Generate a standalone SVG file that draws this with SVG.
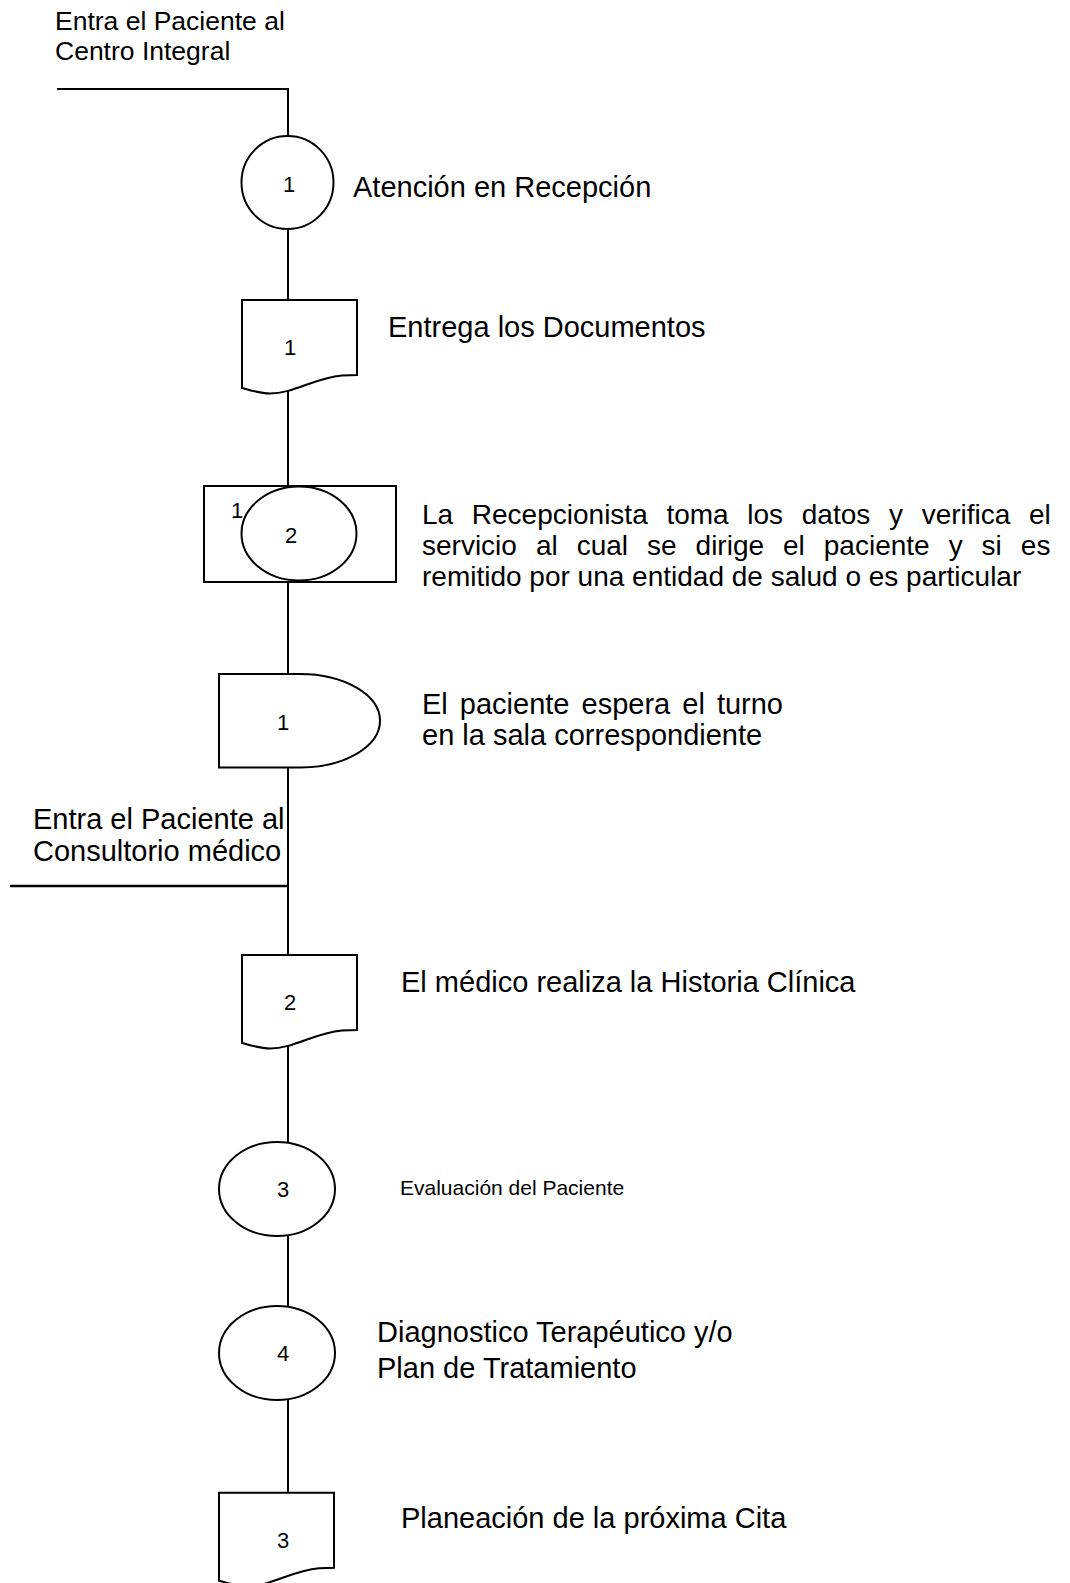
<svg xmlns="http://www.w3.org/2000/svg" width="1070" height="1583" viewBox="0 0 1070 1583">
<defs>
<style>
.s{fill:#fff;stroke:#000;stroke-width:2}
.c{fill:none;stroke:#000;stroke-width:2}
text{font-family:"Liberation Sans",Arial,sans-serif;fill:#000}
.n{font-size:22px;text-anchor:middle}
.t{font-size:29px}
.p{font-size:28px}
</style>
<path id="doc" d="M0,0 H115 V75 L100,75.5 C72,78 52,93.5 28,93.5 C18,93.5 8,90 0,88 Z"/>
</defs>
<rect width="1070" height="1583" fill="#fff"/>
<g id="connectors">
<path class="c" d="M57,89 H288 V136"/>
<path class="c" d="M288,229 V300"/>
<path class="c" d="M288,391 V486"/>
<path class="c" d="M288,582 V674"/>
<path class="c" d="M288,767 V955"/>
<path class="c" d="M10,886 H288" style="stroke-width:2.5"/>
<path class="c" d="M288,1046 V1142"/>
<path class="c" d="M288,1236 V1306"/>
<path class="c" d="M288,1400 V1493"/>
</g>
<g id="start1">
<text x="55" y="30" style="font-size:26.5px">Entra el Paciente al</text>
<text x="55" y="60" style="font-size:26.5px">Centro Integral</text>
</g>
<g id="op1">
<ellipse class="s" cx="287.5" cy="182.5" rx="46" ry="46.5"/>
<text class="n" x="289" y="191.5">1</text>
<text class="t" x="353" y="197">Atención en Recepción</text>
</g>
<g id="doc1">
<use href="#doc" class="s" x="242" y="300"/>
<text class="n" x="290" y="355">1</text>
<text class="t" x="388" y="337">Entrega los Documentos</text>
</g>
<g id="combined2">
<rect class="s" x="204" y="486" width="192" height="96"/>
<ellipse class="s" cx="299" cy="533.5" rx="57.5" ry="47"/>
<text class="n" x="237" y="518">1</text>
<text class="n" x="291" y="543">2</text>
<text class="p" x="422" y="524" word-spacing="10.9">La Recepcionista toma los datos y verifica el</text>
<text class="p" x="422" y="555" word-spacing="11.2">servicio al cual se dirige el paciente y si es</text>
<text class="p" x="422" y="586">remitido por una entidad de salud o es particular</text>
</g>
<g id="delay1">
<path class="s" d="M219,674 H300 A80,46.75 0 0 1 300,767.5 H219 Z"/>
<text class="n" x="283" y="730">1</text>
<text class="t" x="422" y="714" word-spacing="4">El paciente espera el turno</text>
<text class="t" x="422" y="745">en la sala correspondiente</text>
</g>
<g id="start2">
<text class="t" x="33" y="829">Entra el Paciente al</text>
<text class="t" x="33" y="861">Consultorio médico</text>
</g>
<g id="doc2">
<use href="#doc" class="s" x="242" y="955"/>
<text class="n" x="290" y="1010">2</text>
<text class="t" x="401" y="992">El médico realiza la Historia Clínica</text>
</g>
<g id="op3">
<ellipse class="s" cx="277" cy="1189" rx="58" ry="47"/>
<text class="n" x="283" y="1197">3</text>
<text x="400" y="1195" style="font-size:21px">Evaluación del Paciente</text>
</g>
<g id="op4">
<ellipse class="s" cx="277" cy="1353" rx="58" ry="47"/>
<text class="n" x="283" y="1361">4</text>
<text class="t" x="377" y="1342">Diagnostico Terapéutico y/o</text>
<text class="t" x="377" y="1378">Plan de Tratamiento</text>
</g>
<g id="doc3">
<use href="#doc" class="s" x="219" y="1492.7"/>
<text class="n" x="283" y="1548">3</text>
<text class="t" x="401" y="1528">Planeación de la próxima Cita</text>
</g>
</svg>
